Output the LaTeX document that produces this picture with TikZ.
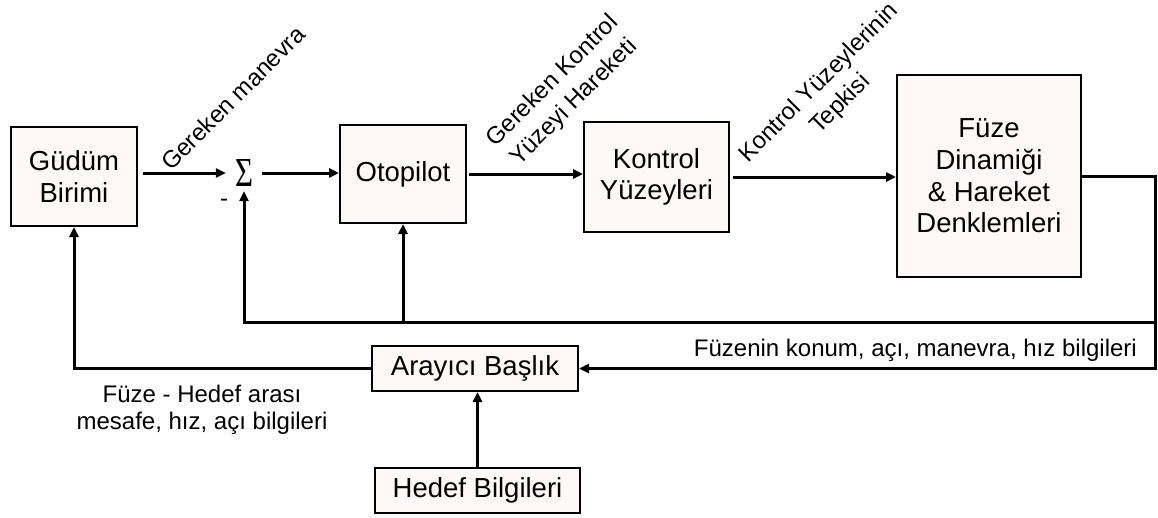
\documentclass[tikz,border=0pt]{standalone}
\usepackage{graphicx}
\usepackage{fontspec}
\setmainfont{Liberation Sans}
\newfontfamily\serifsig{Liberation Serif}
\usetikzlibrary{arrows.meta,calc}
\definecolor{boxfill}{RGB}{255,248,248}
\tikzset{
  blk/.style={draw=black, line width=2pt, fill=boxfill, align=center,
    font=\fontsize{27.5}{31.6}\selectfont, inner sep=0pt},
  lbl/.style={font=\fontsize{24}{27.6}\selectfont, align=center, inner sep=0pt},
  rlbl/.style={font=\fontsize{24}{30}\selectfont, align=center, inner sep=0pt, rotate=45},
  conn/.style={line width=3pt, -{Triangle[length=10pt,width=9pt]}},
}
\begin{document}
\begin{tikzpicture}[x=1pt,y=-1pt]
\useasboundingbox (0,0) rectangle (1158,517);
% blocks
\node[blk, minimum width=126pt, minimum height=99pt] (gud) at (74,176.5) {Güdüm\\Birimi};
\node[blk, minimum width=126pt, minimum height=98pt] (oto) at (403,174) {Otopilot};
\node[blk, minimum width=145pt, minimum height=110pt] (kon) at (656.5,177) {Kontrol\\Yüzeyleri};
\node[blk, minimum width=184pt, minimum height=202pt] (fuze) at (989,176) {Füze\\Dinamiği\\\& Hareket\\Denklemleri};
\node[blk, minimum width=206pt, minimum height=45pt] (ara) at (475,368.5) {Arayıcı Başlık};
\node[blk, minimum width=205pt, minimum height=45pt] (hed) at (477.5,490.5) {Hedef Bilgileri};
% summing junction
\node[minimum width=36pt, minimum height=36pt, inner sep=0pt] (sum) at (244,173)
  {\resizebox*{18pt}{27pt}{\serifsig\fontsize{30}{30}\selectfont Σ}};
\node[lbl] (minus) at (224,203) {-};
% labels
\node[rlbl] (l1) at (233,98) {Gereken manevra};
\node[rlbl] (l2) at (563.5,92) {Gereken Kontrol\\Yüzeyi Hareketi};
\node[rlbl] (l3) at (830,94) {Kontrol Yüzeylerinin\\Tepkisi};
\node[lbl] (l4) at (202,410) {Füze - Hedef arası\\mesafe, hız, açı bilgileri};
\node[lbl, anchor=base east] (l5) at (1137,356) {Füzenin konum, açı, manevra, hız bilgileri};
% helper coordinates
\coordinate (rTop) at (1155,176);
\coordinate (rFb) at (1155,322);
\coordinate (fbSum) at (244,322);
\coordinate (fbOto) at (403,322);
% forward path
\draw[conn, shorten <=5pt] (gud.east |- sum.west) -- (sum.west);
\draw[conn] (sum.east) -- (oto.west |- sum.east);
\draw[conn, shorten <=2pt] (oto.east) -- (kon.west |- oto.east);
\draw[conn, shorten <=3pt] (kon.east) -- (fuze.west |- kon.east);
% feedback
\draw[conn] (fuze.east) -- (rTop) |- (ara.east);
\draw[conn] (rFb) -- (fbSum) -- (sum.south);
\draw[conn] (fbOto) -- (oto.south);
\draw[conn] (ara.west) -| (gud.south);
\draw[conn] (hed.north) -- (hed.north |- ara.south);
\end{tikzpicture}
\end{document}
